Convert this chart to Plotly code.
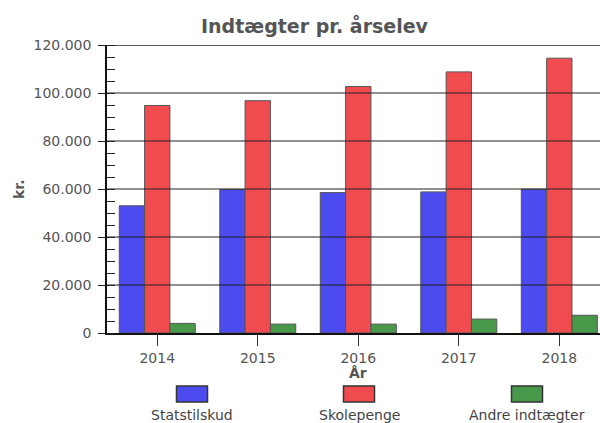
import plotly.graph_objects as go

years = ["2014", "2015", "2016", "2017", "2018"]
statstilskud = [53000, 59800, 58500, 58800, 59900]
skolepenge = [94800, 96800, 102700, 108800, 114500]
andre = [4000, 3700, 3700, 5800, 7400]

series_names = ["Statstilskud", "Skolepenge", "Andre indtægter"]
series_values = [statstilskud, skolepenge, andre]
series_colors = ["#4b4bef", "#f04c4f", "#48984a"]

y_max = 120000
y_major = list(range(0, y_max + 1, 20000))

W, H = 600, 423
ML, MR, MT, MB = 107, 0, 45, 90
PW = W - ML - MR
PH = H - MT - MB


def px(xp):
    return (xp - ML) / PW


def py(yp):
    return (H - MB - yp) / PH


font_family = "DejaVu Sans"
txt_col = "#555555"

fig = go.Figure()
for name, vals, col in zip(series_names, series_values, series_colors):
    fig.add_trace(go.Bar(
        x=years, y=vals, name=name,
        marker=dict(color=col, line=dict(color="#555555", width=1)),
        showlegend=False,
    ))

shapes = []
# gridlines drawn above the bars
for v in y_major[1:]:
    shapes.append(dict(type="line", xref="paper", yref="y", x0=0, x1=1, y0=v, y1=v,
                       line=dict(color="#222222", width=1.6 if v == y_max else 1), layer="above"))
# inside parts of the x ticks
for yr in years:
    shapes.append(dict(type="line", xref="x", yref="paper", x0=yr, x1=yr, y0=0, y1=10 / PH,
                       line=dict(color="#333333", width=1), layer="above"))

annotations = []
# manual legend: swatch above label
leg_centers = [192, 359, 527]
for name, col, cx in zip(series_names, series_colors, leg_centers):
    shapes.append(dict(type="rect", xref="paper", yref="paper",
                       x0=px(cx - 15.5), x1=px(cx + 15.5), y0=py(402), y1=py(386),
                       fillcolor=col, line=dict(color="#333333", width=1.5), layer="above"))
    annotations.append(dict(text=name, xref="paper", yref="paper", x=px(cx), y=py(415),
                            xanchor="center", yanchor="middle", showarrow=False,
                            font=dict(family=font_family, size=14, color="#444444")))

annotations.append(dict(text="<b>År</b>", xref="paper", yref="paper", x=px(358), y=py(373),
                        xanchor="center", yanchor="middle", showarrow=False,
                        font=dict(family=font_family, size=14, color=txt_col)))
annotations.append(dict(text="<b>kr.</b>", xref="paper", yref="paper", x=px(19), y=py(189),
                        xanchor="center", yanchor="middle", showarrow=False, textangle=-90,
                        font=dict(family=font_family, size=14, color=txt_col)))
annotations.append(dict(text="<b>Indtægter pr. årselev</b>", xref="paper", yref="paper",
                        x=px(315), y=py(25), xanchor="center", yanchor="middle", showarrow=False,
                        font=dict(family=font_family, size=19, color=txt_col)))

fig.update_layout(
    width=W, height=H,
    margin=dict(l=ML, r=MR, t=MT, b=MB, pad=0),
    paper_bgcolor="white", plot_bgcolor="white",
    barmode="group", bargap=0.244, bargroupgap=0,
    separators=",.",
    shapes=shapes, annotations=annotations,
    font=dict(family=font_family, size=14, color=txt_col),
    xaxis=dict(
        type="category", categoryarray=years, range=[-0.5, 4.405],
        showgrid=False, showline=True, linecolor="#111111", linewidth=1.5,
        ticks="outside", ticklen=11, tickcolor="#333333", tickwidth=1,
        tickfont=dict(family=font_family, size=14, color=txt_col),
        zeroline=False, layer="above traces",
    ),
    yaxis=dict(
        range=[0, y_max], tickvals=y_major, tickformat=",",
        showgrid=False, zeroline=False,
        showline=True, linecolor="#111111", linewidth=1.5,
        ticks="outside", ticklen=7, tickcolor="#222222", tickwidth=1,
        ticklabelstandoff=4,
        tickfont=dict(family=font_family, size=14, color=txt_col),
        minor=dict(ticks="inside", ticklen=8, dtick=5000, tickcolor="#222222", tickwidth=1, showgrid=False),
        layer="above traces",
    ),
)

fig.write_html(
    "out.html",
    config={"displayModeBar": False},
    post_script="document.body.style.margin='0';document.body.style.overflow='hidden';",
)
